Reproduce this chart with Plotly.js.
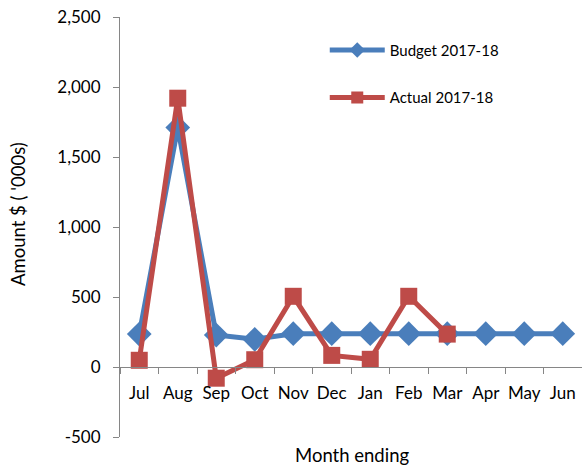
<!DOCTYPE html>
<html>
<head>
<meta charset="utf-8">
<script src="https://cdn.plot.ly/plotly-3.0.1.min.js"></script>
<style>html,body{margin:0;padding:0;background:#fff;}#chart{width:582px;height:468px;}</style>
</head>
<body>
<div id="chart"></div>
<script>
const months = ["Jul","Aug","Sep","Oct","Nov","Dec","Jan","Feb","Mar","Apr","May","Jun"];
const budget = [235, 1710, 228, 198, 238, 238, 238, 238, 238, 238, 238, 238];
const actualMonths = ["Jul","Aug","Sep","Oct","Nov","Dec","Jan","Feb","Mar"];
const actual = [48, 1920, -80, 52, 505, 83, 55, 505, 235];
const seriesNames = ["Budget 2017-18", "Actual 2017-18"];
const yTicks = [-500, 0, 500, 1000, 1500, 2000, 2500];
const yTickText = ["-500", "0", "500", "1,000", "1,500", "2,000", "2,500"];

const fontFam = "Lato, 'Open Sans', sans-serif";
const traces = [
  {x: months, y: budget, name: seriesNames[0], type: "scatter", mode: "lines+markers",
   line: {color: "#4A7EBB", width: 5}, marker: {symbol: "diamond", size: 19, color: "#4A7EBB"},
   legendgroup: "a"},
  {x: actualMonths, y: actual, name: seriesNames[1], type: "scatter", mode: "lines+markers",
   line: {color: "#BE4B48", width: 5}, marker: {symbol: "square", size: 17, color: "#BE4B48"},
   legendgroup: "b"}
];
const layout = {
  width: 582, height: 468,
  margin: {l: 120, r: 0, t: 17, b: 31, autoexpand: false},
  paper_bgcolor: "#fff", plot_bgcolor: "#fff",
  font: {family: fontFam, size: 16, color: "#000"},
  showlegend: true,
  legend: {xref: "container", yref: "container", x: 0.558, y: 0.928, xanchor: "left", yanchor: "top",
           traceorder: "grouped", tracegroupgap: 25, itemsizing: "constant", itemwidth: 55,
           font: {size: 15, family: fontFam}, bgcolor: "rgba(0,0,0,0)"},
  xaxis: {type: "category", categoryarray: months, anchor: "free", position: (0 - (-500)) / 3000,
          showline: true, linecolor: "#868686", linewidth: 1, ticks: "outside", ticklen: 6, tickcolor: "#868686",
          tickson: "boundaries", showgrid: false, zeroline: false, ticklabelstandoff: 11, tickangle: 0,
          automargin: false, tickfont: {size: 17}, range: [-0.5, 11.5], fixedrange: true},
  yaxis: {range: [-500, 2500], tickvals: yTicks, ticktext: yTickText, showline: true, linecolor: "#868686",
          linewidth: 1, ticks: "outside", ticklen: 6, tickcolor: "#868686", showgrid: false, zeroline: false,
          automargin: false, tickfont: {size: 17}, ticklabelstandoff: 9, fixedrange: true},
  annotations: [
    {text: "Month ending", xref: "paper", yref: "paper", x: 0.503, y: (437 - 455) / 420, showarrow: false,
     font: {size: 18.5}, xanchor: "center", yanchor: "middle"},
    {text: "Amount $ ( '000s)", xref: "paper", yref: "paper", x: (18 - 120) / 462, y: (437 - 214) / 420, showarrow: false,
     textangle: -90, font: {size: 18.5}, xanchor: "center", yanchor: "middle"}
  ]
};
Plotly.newPlot("chart", traces, layout, {displayModeBar: false, staticPlot: true});
</script>
</body>
</html>
